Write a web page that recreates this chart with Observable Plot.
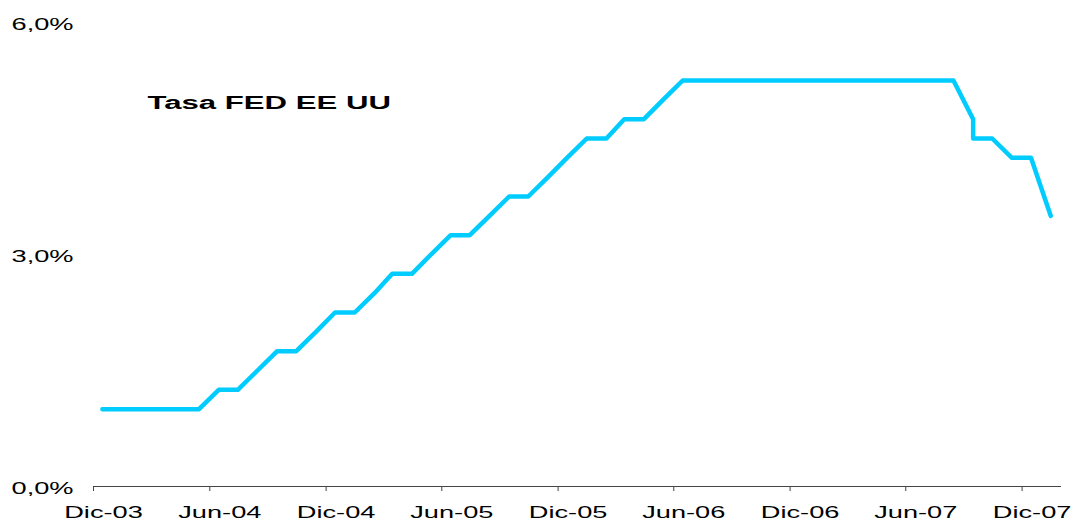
<!DOCTYPE html>
<html>
<head>
<meta charset="utf-8">
<script src="https://cdn.jsdelivr.net/npm/d3@7"></script>
<script src="https://cdn.jsdelivr.net/npm/@observablehq/plot@0.6"></script>
<style>
  html, body { margin: 0; padding: 0; background: #fff; }
  #chart { width: 1074px; height: 522px; }
</style>
</head>
<body>
<div id="chart"></div>
<script>
// ---- data ----
const chartTitle = "Tasa FED EE UU";

const dates = [
  "2003-12-15","2004-01-15","2004-02-15","2004-03-15","2004-04-15","2004-05-15",
  "2004-06-15","2004-07-15","2004-08-15","2004-09-15","2004-10-15","2004-11-15",
  "2004-12-15","2005-01-15","2005-02-15","2005-03-15","2005-04-15","2005-05-15",
  "2005-06-15","2005-07-15","2005-08-15","2005-09-15","2005-10-15","2005-11-15",
  "2005-12-15","2006-01-15","2006-02-15","2006-03-15","2006-04-15","2006-05-15",
  "2006-06-15","2006-07-15","2006-08-15","2006-09-15","2006-10-15","2006-11-15",
  "2006-12-15","2007-01-15","2007-02-15","2007-03-15","2007-04-15","2007-05-15",
  "2007-06-15","2007-07-15","2007-08-15","2007-09-15","2007-09-15","2007-10-15",
  "2007-11-15","2007-12-15","2008-01-15"
];
const rates = [
  1.00,1.00,1.00,1.00,1.00,1.00,
  1.25,1.25,1.50,1.75,1.75,2.00,
  2.25,2.25,2.50,2.75,2.75,3.00,
  3.25,3.25,3.50,3.75,3.75,4.00,
  4.25,4.50,4.50,4.75,4.75,5.00,
  5.25,5.25,5.25,5.25,5.25,5.25,
  5.25,5.25,5.25,5.25,5.25,5.25,
  5.25,5.25,5.25,4.75,4.50,4.50,
  4.25,4.25,3.50
];

const xTickDates = ["2003-12-01","2004-06-01","2004-12-01","2005-06-01","2005-12-01",
                    "2006-06-01","2006-12-01","2007-06-01","2007-12-01"];
const xTickLabels = ["Dic-03","Jun-04","Dic-04","Jun-05","Dic-05","Jun-06","Dic-06","Jun-07","Dic-07"];
const yTicks = [0, 3, 6];

// ---- build ----
const rows = dates.map((d, i) => ({date: new Date(d), rate: rates[i]}));
const tickDates = xTickDates.map(d => new Date(d));
const labelOf = new Map(xTickDates.map((d, i) => [new Date(d).getTime(), xTickLabels[i]]));

const chart = Plot.plot({
  width: 1074,
  height: 522,
  marginLeft: 93,
  marginRight: 13,
  marginTop: 22,
  marginBottom: 36,
  style: {fontFamily: "'Liberation Sans', Arial, sans-serif", fontSize: "17px", color: "#000", background: "#fff"},
  x: {type: "utc", domain: [new Date("2003-12-01"), new Date("2008-02-01")], label: null},
  y: {domain: [0, 6], label: null},
  marks: [
    Plot.axisY({ticks: yTicks, tickSize: 0, tickPadding: 20, dy: 2, label: null,
                tickFormat: d => d.toFixed(1).replace(".", ",") + "%"}),
    Plot.axisX({ticks: tickDates, tickSize: 5, stroke: "#444", tickFormat: () => "", label: null}),
    Plot.axisX({ticks: tickDates, tickSize: 0, tickPadding: 19, dx: 10, label: null,
                tickFormat: d => labelOf.get(d.getTime())}),
    Plot.ruleY([0], {stroke: "#444"}),
    Plot.line(rows, {x: "date", y: "rate", stroke: "#00CCFF", strokeWidth: 4.5,
                     strokeLinecap: "round", strokeLinejoin: "round"}),
    Plot.text([chartTitle], {frameAnchor: "top-left", dx: 54, dy: 74, text: d => d,
                             textAnchor: "start", fontWeight: "bold", fontSize: 17.7, fill: "#000"})
  ]
});

// horizontally widen text like the original rendering
chart.querySelectorAll("text").forEach(el => {
  const s = el.textContent === chartTitle ? 1.76 : 1.6;
  const x = +(el.getAttribute("x") || 0);
  const t = el.getAttribute("transform") || "";
  el.setAttribute("transform", `${t} translate(${x},0) scale(${s},1) translate(${-x},0)`);
});

document.getElementById("chart").appendChild(chart);
</script>
</body>
</html>
